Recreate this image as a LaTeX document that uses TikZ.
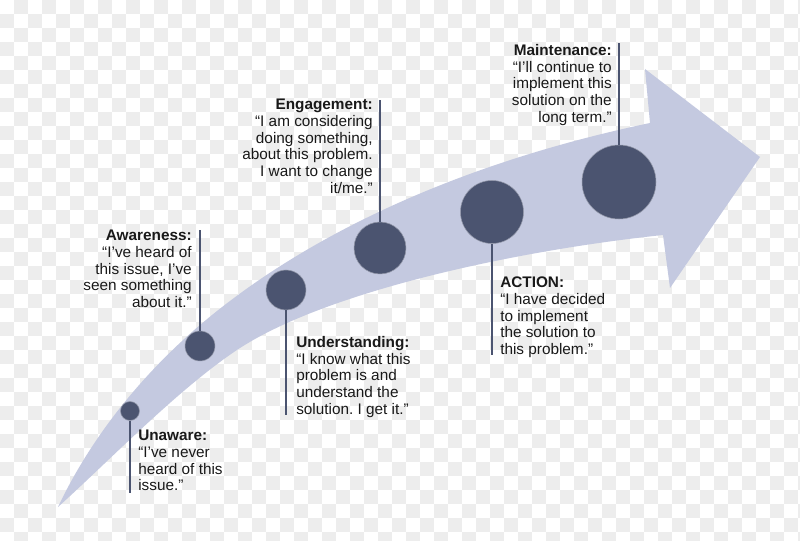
\documentclass[tikz,border=0pt]{standalone}
\usepackage{fontspec}
\setmainfont{Liberation Sans}
\usepackage{xcolor}
\usepackage{tikz}
\usetikzlibrary{positioning}
\frenchspacing
\definecolor{bandblue}{HTML}{C4C9E0}
\definecolor{dotslate}{HTML}{4B5470}
\tikzset{
  checker/.style={fill=black!7},
  stagedot/.style={circle, fill=dotslate, draw=dotslate!60, line width=0.4pt,
    inner sep=0pt},
  stageline/.style={draw=dotslate, line width=1.3pt},
  stagetext/.style={inner sep=0pt, text=black!90,
    font=\fontsize{11.5}{12.5}\selectfont},
  lefttext/.style={stagetext, align=left, anchor=north west},
  righttext/.style={stagetext, align=right, anchor=north east}
}

\begin{document}
\begin{tikzpicture}[x=0.75pt,y=-0.75pt]
  \fill[white] (0,0) rectangle (800,541);
  \useasboundingbox (0,0) rectangle (800,541);
  % faint checker background
  \begin{scope}
    \clip (0,0) rectangle (800,541);
    \foreach \i in {0,2,...,56}
      \foreach \j in {0,2,...,38} {
        \fill[checker] (\i*14+14,\j*14) rectangle ++(14,14);
        \fill[checker] (\i*14,\j*14+14) rectangle ++(14,14);
      }
  \end{scope}

  % the curved arrow
  \fill[bandblue] (58,507) .. controls (85,450) and (130,385) .. (200,325)
    .. controls (300,240) and (450,165) .. (650,123)
    -- (645,69) -- (760,157) -- (670,288) -- (663,235)
    .. controls (520,250) and (330,290) .. (240,348)
    .. controls (180,387) and (108,462) .. (58,507) -- cycle;

  % stages
  \node[stagedot, minimum size=19pt*0.75] (unaware) at (130,411) {};
  \node[stagedot, minimum size=30pt*0.75] (awareness) at (200,346) {};
  \node[stagedot, minimum size=40pt*0.75] (understanding) at (286,290) {};
  \node[stagedot, minimum size=52pt*0.75] (engagement) at (380,248) {};
  \node[stagedot, minimum size=63pt*0.75] (action) at (492,212) {};
  \node[stagedot, minimum size=74pt*0.75] (maintenance) at (619,182) {};

  \node[lefttext] (unawaretext) at (138,430)
    {\textbf{Unaware:}\\“I’ve never\\heard of this\\issue.”};
  \node[righttext] (awarenesstext) at (192,230)
    {\textbf{Awareness:}\\“I’ve heard of\\this issue, I’ve\\seen something\\about it.”};
  \node[lefttext] (understandingtext) at (296,336)
    {\textbf{Understanding:}\\“I know what this\\problem is and\\understand the\\solution. I get it.”};
  \node[righttext] (engagementtext) at (373,99)
    {\textbf{Engagement:}\\“I am considering\\doing something,\\about this problem.\\I want to change\\it/me.”};
  \node[lefttext] (actiontext) at (500,277)
    {\textbf{ACTION:}\\“I have decided\\to implement\\the solution to\\this problem.”};
  \node[righttext] (maintenancetext) at (612,44)
    {\textbf{Maintenance:}\\“I’ll continue to\\implement this\\solution on the\\long term.”};

  \coordinate (unawareend) at (130,493);
  \coordinate (awarenessend) at (200,230);
  \coordinate (understandingend) at (286,415);
  \coordinate (engagementend) at (380,100);
  \coordinate (actionend) at (492,355);
  \coordinate (maintenanceend) at (619,43);

  \draw[stageline] (unaware.south) -- (unawareend);
  \draw[stageline] (awareness.north) -- (awarenessend);
  \draw[stageline] (understanding.south) -- (understandingend);
  \draw[stageline] (engagement.north) -- (engagementend);
  \draw[stageline] (action.south) -- (actionend);
  \draw[stageline] (maintenance.north) -- (maintenanceend);
\end{tikzpicture}
\end{document}
